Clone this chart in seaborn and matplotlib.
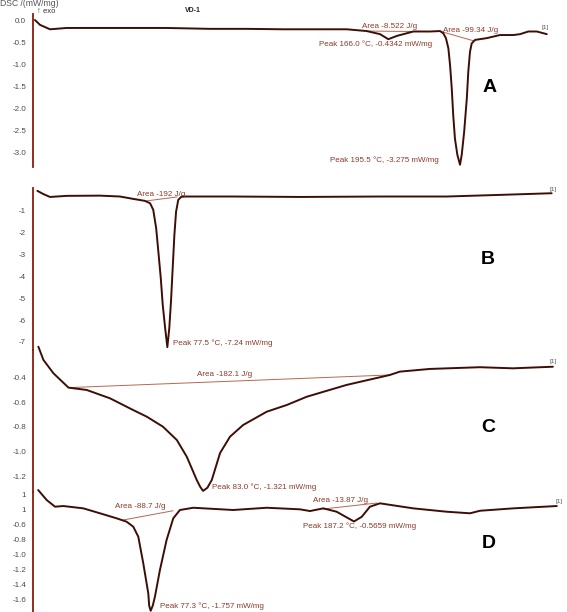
import matplotlib
matplotlib.use("Agg")
import matplotlib.pyplot as plt
import seaborn as sns
import pandas as pd

# ---------------- data (temperature °C, DSC mW/mg) ----------------
temp_a = [20.6, 22.7, 26.8, 33.7, 47.5, 74.8, 92.6, 107.7, 122.8, 135.1, 148.9, 157.1, 162.6,
          166.0, 169.5, 176.3, 183.2, 187.3, 188.6, 189.7, 190.7, 191.4, 192.1, 192.7, 193.4,
          194.4, 195.5, 196.2, 197.2, 198.3, 198.9, 199.6, 200.3, 201.7, 206.5, 211.9, 217.4,
          220.2, 223.6, 227.1, 231.2]
dsc_a = [0.0, -0.11, -0.21, -0.18, -0.18, -0.18, -0.20, -0.20, -0.21, -0.21, -0.21, -0.25, -0.32,
         -0.4342, -0.36, -0.26, -0.26, -0.25, -0.30, -0.41, -0.64, -1.02, -1.55, -2.15, -2.68,
         -3.05, -3.275, -3.05, -2.53, -1.77, -1.17, -0.72, -0.53, -0.45, -0.41, -0.34, -0.34,
         -0.32, -0.26, -0.26, -0.32]

temp_b = [24.0, 26.5, 29.2, 36.1, 49.8, 58.0, 63.5, 68.3, 70.4, 71.7, 72.9, 73.8, 74.8, 75.6,
          76.6, 77.5, 78.3, 79.0, 79.7, 80.4, 81.1, 82.0, 83.4, 104.7, 132.1, 165.0, 192.5,
          213.1, 235.7]
dsc_b = [-0.08, -0.23, -0.36, -0.31, -0.30, -0.34, -0.45, -0.54, -0.65, -0.95, -1.79, -2.86,
         -4.08, -5.30, -6.37, -7.24, -6.37, -5.15, -3.62, -2.10, -1.03, -0.49, -0.34, -0.34,
         -0.36, -0.34, -0.34, -0.27, -0.19]

temp_c = [15.2, 17.3, 21.4, 27.6, 35.1, 44.7, 54.2, 59.8, 66.5, 72.2, 76.3, 80.4, 81.8, 83.0,
          84.8, 86.6, 90.0, 94.1, 99.5, 109.2, 117.5, 125.7, 142.1, 159.9, 164.0, 176.4, 197.0,
          210.6, 227.0]
dsc_c = [-0.148, -0.256, -0.364, -0.481, -0.500, -0.568, -0.663, -0.717, -0.799, -0.907, -1.043,
         -1.232, -1.287, -1.321, -1.295, -1.232, -1.013, -0.880, -0.785, -0.677, -0.622, -0.555,
         -0.459, -0.378, -0.351, -0.329, -0.315, -0.324, -0.311]

temp_d = [16.5, 21.1, 25.6, 30.1, 40.9, 49.9, 58.9, 64.3, 67.9, 70.6, 73.3, 76.0, 76.5, 77.3,
          78.4, 79.6, 82.3, 85.9, 89.5, 93.1, 100.3, 121.9, 140.0, 158.0, 163.4, 170.6, 177.8,
          183.2, 187.2, 191.4, 195.8, 201.2, 219.2, 237.3, 249.9, 255.3, 273.3, 296.8]
dsc_d = [-0.147, -0.28, -0.369, -0.36, -0.391, -0.457, -0.524, -0.569, -0.636, -0.769, -1.124,
         -1.524, -1.69, -1.757, -1.69, -1.569, -1.213, -0.813, -0.524, -0.413, -0.383, -0.413,
         -0.383, -0.404, -0.427, -0.391, -0.436, -0.511, -0.5659, -0.503, -0.369, -0.324,
         -0.391, -0.436, -0.457, -0.423, -0.391, -0.36]

# integration baselines (start/end temperature, start/end signal)
base_a1_t = [157.0, 176.3]; base_a1_v = [-0.25, -0.26]
base_a2_t = [188.0, 201.0]; base_a2_v = [-0.265, -0.47]
base_b_t = [69.0, 81.5];    base_b_v = [-0.54, -0.36]
base_c_t = [27.6, 159.9];   base_c_v = [-0.481, -0.378]
base_d1_t = [62.3, 89.4];   base_d1_v = [-0.547, -0.423]
base_d2_t = [170.4, 199.6]; base_d2_v = [-0.40, -0.32]

ticks_a = [0.0, -0.5, -1.0, -1.5, -2.0, -2.5, -3.0]
labels_a = ["0.0", "-0.5", "-1.0", "-1.5", "-2.0", "-2.5", "-3.0"]
ticks_b = [-1, -2, -3, -4, -5, -6, -7]
labels_b = ["-1", "-2", "-3", "-4", "-5", "-6", "-7"]
ticks_c = [-0.4, -0.6, -0.8, -1.0, -1.2]
labels_c = ["-0.4", "-0.6", "-0.8", "-1.0", "-1.2"]
ticks_d = [-0.2, -0.4, -0.6, -0.8, -1.0, -1.2, -1.4, -1.6]
labels_d = ["1", "1", "-0.6", "-0.8", "-1.0", "-1.2", "-1.4", "-1.6"]

# ---------------- style ----------------
sns.set_theme(style="white")
plt.rcParams['font.family'] = ['Liberation Sans', 'DejaVu Sans']

W, H = 567, 612
fig = plt.figure(figsize=(W / 100, H / 100), dpi=100)
fig.patch.set_facecolor("white")

CURVE = "#3d0e06"
SPINE = "#8a1c0c"
ANNO = "#8b3a2a"
BASE = "#b8664c"
TICK = "#4a4a4a"

def px_axes(top, bottom, left=33, right=557):
    return fig.add_axes([left / W, 1 - bottom / H, (right - left) / W, (bottom - top) / H])

panels = [
    dict(t=temp_a, v=dsc_a, top=14, bot=167, xlim=(19.8, 235.4), ylim=(0.136, -3.326),
         ticks=ticks_a, labels=labels_a,
         bases=[(base_a1_t, base_a1_v), (base_a2_t, base_a2_v)]),
    dict(t=temp_b, v=dsc_b, top=188, bot=350, xlim=(22.2, 237.9), ylim=(0.05, -7.37),
         ticks=ticks_b, labels=labels_b, bases=[(base_b_t, base_b_v)]),
    dict(t=temp_c, v=dsc_c, top=350, bot=492, xlim=(13.0, 228.7), ylim=(-0.175, -1.33),
         ticks=ticks_c, labels=labels_c, bases=[(base_c_t, base_c_v)]),
    dict(t=temp_d, v=dsc_d, top=492, bot=612, xlim=(13.7, 296.9), ylim=(-0.173, -1.773),
         ticks=ticks_d, labels=labels_d,
         bases=[(base_d1_t, base_d1_v), (base_d2_t, base_d2_v)]),
]

for p in panels:
    ax = px_axes(p["top"], p["bot"])
    ax.set_facecolor("none")
    df = pd.DataFrame({"T": p["t"], "DSC": p["v"]})
    for bt, bv in p["bases"]:
        ax.plot(bt, bv, color=BASE, lw=0.7, clip_on=False)
    sns.lineplot(data=df, x="T", y="DSC", ax=ax, color=CURVE, lw=1.4,
                 estimator=None, sort=False)
    for ln in ax.lines:
        ln.set_clip_on(False)
        ln.set_solid_joinstyle("round")
    ax.set_xlim(*p["xlim"])
    ax.set_ylim(p["ylim"][1], p["ylim"][0])
    ax.set_xticks([])
    ax.set_yticks(p["ticks"])
    ax.set_yticklabels(p["labels"])
    ax.tick_params(axis="y", length=0, pad=5, labelsize=5.8, labelcolor=TICK)
    ax.set_xlabel("")
    ax.set_ylabel("")
    for s in ["top", "right", "bottom"]:
        ax.spines[s].set_visible(False)
    ax.spines["left"].set_color(SPINE)
    ax.spines["left"].set_linewidth(1.3)

def ftext(x, y, s, size=5.8, color=ANNO, weight="normal", ha="left"):
    fig.text(x / W, 1 - y / H, s, fontsize=size, color=color, weight=weight,
             ha=ha, va="center")

# header
ftext(0, 4, "DSC /(mW/mg)", size=6.2, color="#555555")
ftext(37, 11.5, "↑ exo", size=5.5, color="#333333")
ftext(185, 11, "VD-1", size=5, color="#222222", weight="bold")

# panel A
ftext(362, 26, "Area -8.522 J/g")
ftext(319, 44, "Peak 166.0 °C, -0.4342 mW/mg")
ftext(443, 31, "Area -99.34 J/g")
ftext(330, 160, "Peak 195.5 °C, -3.275 mW/mg")
ftext(542, 28, "[1]", size=4.5, color="#555555")
ftext(483, 88, "A", size=14, color="black", weight="bold")

# panel B
ftext(137, 194, "Area -192 J/g")
ftext(173, 343, "Peak 77.5 °C, -7.24 mW/mg")
ftext(549, 190, "[1]", size=4.5, color="#555555")
ftext(481, 260, "B", size=14, color="black", weight="bold")

# panel C
ftext(197, 374, "Area -182.1 J/g")
ftext(212, 487, "Peak 83.0 °C, -1.321 mW/mg")
ftext(549, 362, "[1]", size=4.5, color="#555555")
ftext(481, 427, "C", size=14, color="black", weight="bold")

# panel D
ftext(115, 507, "Area -88.7 J/g")
ftext(160, 606, "Peak 77.3 °C, -1.757 mW/mg")
ftext(313, 501, "Area -13.87 J/g")
ftext(303, 526, "Peak 187.2 °C, -0.5659 mW/mg")
ftext(555, 502, "[1]", size=4.5, color="#555555")
ftext(482, 544, "D", size=14, color="black", weight="bold")

fig.savefig("out.png", dpi=100, facecolor="white")
